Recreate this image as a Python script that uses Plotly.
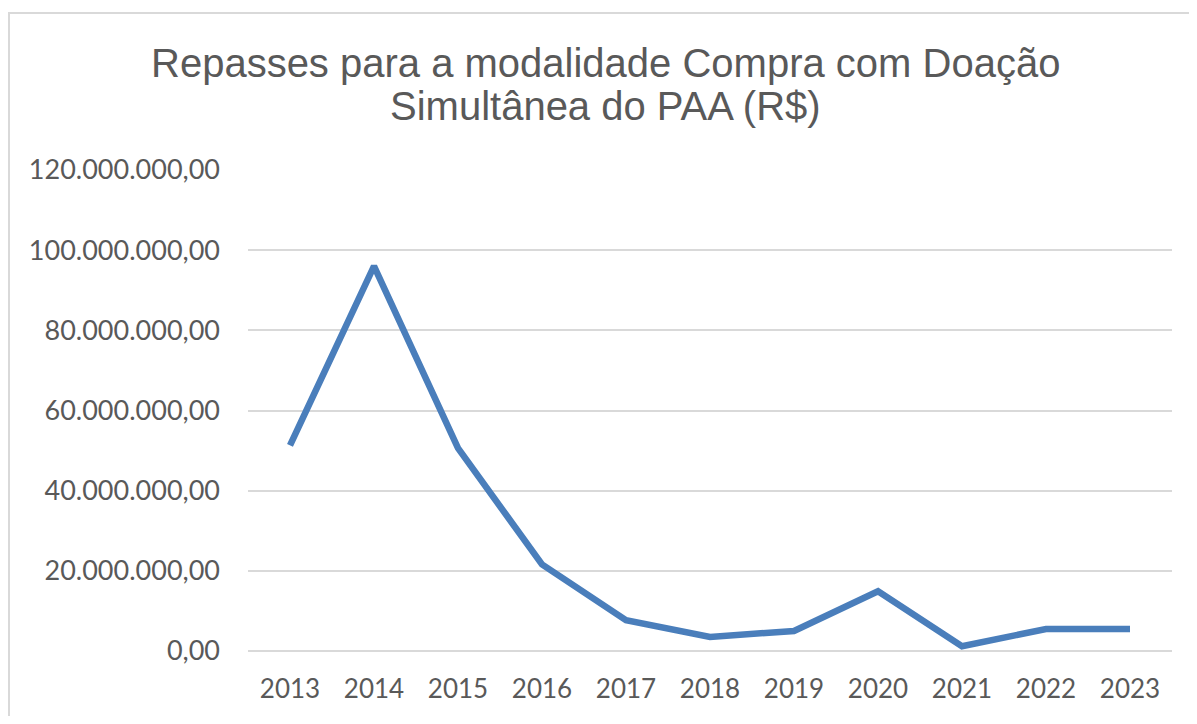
import plotly.graph_objects as go

years = ["2013", "2014", "2015", "2016", "2017", "2018", "2019", "2020", "2021", "2022", "2023"]
values = [51.3e6, 96.0e6, 50.6e6, 21.6e6, 7.7e6, 3.5e6, 5.0e6, 14.9e6, 1.2e6, 5.5e6, 5.5e6]
y_tickvals = [0, 20e6, 40e6, 60e6, 80e6, 100e6, 120e6]
y_ticktext = ["0,00", "20.000.000,00", "40.000.000,00", "60.000.000,00",
              "80.000.000,00", "100.000.000,00", "120.000.000,00"]
title_line1 = "Repasses para a modalidade Compra com Doação"
title_line2 = "Simultânea do PAA (R$)"

# page has an 8px body margin; figure sized to avoid scrollbars
W, H = 1181, 708
L, R, T, B = 240, 17, 162, 62
pw, ph = W - L - R, H - T - B


def px_x(fx):
    return (fx - L) / pw


def px_y(fy):
    return (T + ph - fy) / ph


fig = go.Figure()
fig.add_trace(go.Scatter(
    x=years, y=values, mode="lines",
    line=dict(color="#4a7ebb", width=6.5),
    hoverinfo="skip", showlegend=False,
))

title_font = dict(family="Liberation Sans, Arial, sans-serif", size=40, color="#595959")

fig.update_layout(
    width=W, height=H,
    margin=dict(l=L, r=R, t=T, b=B),
    paper_bgcolor="white", plot_bgcolor="white",
    xaxis=dict(
        type="category", range=[-0.5, len(years) - 0.5],
        showgrid=False, zeroline=False, showline=False,
        ticks="", tickfont=dict(family="Lato, sans-serif", size=26, color="#595959"),
        ticklabelstandoff=20,
    ),
    yaxis=dict(
        range=[0, 120e6], tickvals=y_tickvals, ticktext=y_ticktext,
        showgrid=True, gridcolor="#d9d9d9", gridwidth=2,
        zeroline=True, zerolinecolor="#d9d9d9", zerolinewidth=2,
        showline=False, ticks="",
        tickfont=dict(family="Lato, sans-serif", size=27, color="#595959"),
        ticklabelstandoff=27,
    ),
    annotations=[
        dict(text=title_line1, xref="paper", yref="paper",
             x=px_x(597), y=px_y(54), xanchor="center", yanchor="middle",
             showarrow=False, font=title_font),
        dict(text=title_line2, xref="paper", yref="paper",
             x=px_x(597), y=px_y(98), xanchor="center", yanchor="middle",
             showarrow=False, font=title_font),
    ],
    shapes=[dict(
        type="rect", xref="paper", yref="paper",
        x0=px_x(1), x1=px_x(W + 20),
        y0=px_y(H + 20), y1=px_y(4),
        line=dict(color="#d9d9d9", width=2), fillcolor="rgba(0,0,0,0)",
        layer="below",
    )],
)

fig.write_html("out.html")
